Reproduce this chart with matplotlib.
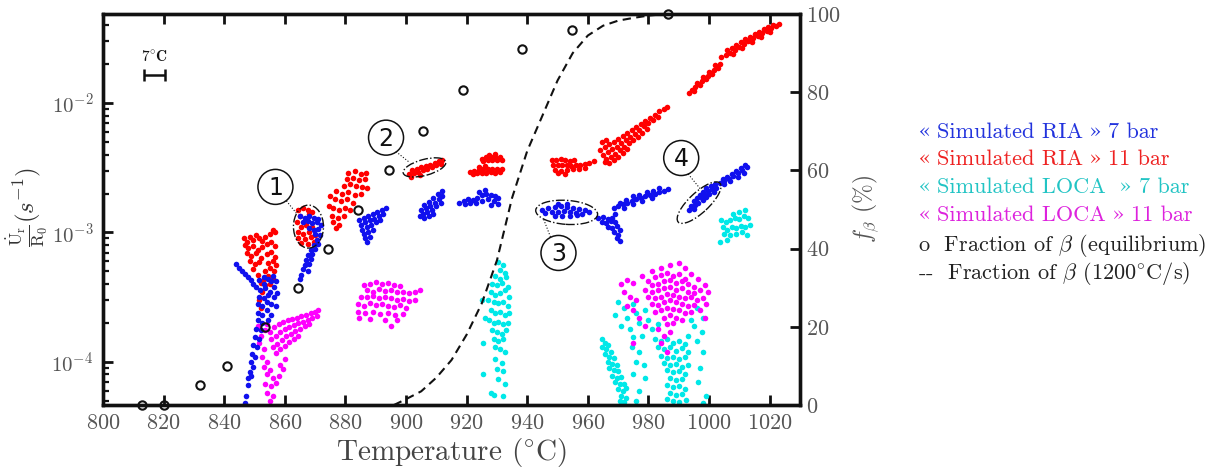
import numpy as np
import matplotlib
matplotlib.use("Agg")
import matplotlib.pyplot as plt
from matplotlib.patches import Ellipse, Circle
from matplotlib.lines import Line2D
from matplotlib.transforms import IdentityTransform
from matplotlib.ticker import LogLocator, FixedLocator

plt.rcParams['mathtext.fontset'] = 'cm'
plt.rcParams['font.family'] = ['cmr10', 'DejaVu Serif']
plt.rcParams['axes.unicode_minus'] = False
plt.rcParams['axes.formatter.use_mathtext'] = True

# ---------------- data (temperature degC, strain rate s^-1) ----------------
# "Simulated RIA" 7 bar (blue)
ria7_c1 = [(844.0,5.7e-4),(845.0,5.3e-4),(846.0,5.0e-4),(846.8,4.8e-4),(847.8,4.5e-4),(848.8,4.3e-4),
           (849.6,4.0e-4),(850.5,3.8e-4),(851.5,4.3e-4),(853.0,4.5e-4),(854.5,4.4e-4),(856.0,4.6e-4),
           (857.0,4.2e-4),(851.8,3.6e-4),(853.5,3.7e-4),(855.0,3.5e-4),(856.5,3.8e-4),(851.5,3.2e-4),
           (853.0,3.1e-4),(854.5,3.3e-4),(856.5,3.2e-4),(857.5,3.4e-4),(851.0,2.8e-4),(852.5,2.7e-4),
           (854.0,2.9e-4),(855.5,2.8e-4),(857.0,2.7e-4),(851.0,2.4e-4),(852.5,2.3e-4),(854.0,2.5e-4),
           (855.5,2.3e-4),(851.0,2.1e-4),(852.5,2.0e-4),(854.5,2.1e-4),(850.5,1.8e-4),(852.0,1.75e-4),
           (850.0,1.55e-4),(851.5,1.5e-4),(849.5,1.35e-4),(850.8,1.3e-4),(849.2,1.15e-4),(850.2,1.1e-4),
           (848.8,1.0e-4),(849.5,9.2e-5),(848.5,8.4e-5),(848.0,7.5e-5),(848.8,7.8e-5),(847.8,6.6e-5),
           (847.3,5.5e-5),(846.8,4.8e-5),(855.5,4.2e-4),(853.0,4.0e-4)]
ria7_c2 = [(865.0,1.35e-3),(866.5,1.3e-3),(868.0,1.33e-3),(869.5,1.3e-3),(871.0,1.28e-3),(866.0,1.2e-3),
           (867.5,1.22e-3),(869.0,1.18e-3),(870.5,1.2e-3),(871.8,1.15e-3),(868.0,1.08e-3),(869.5,1.05e-3),
           (871.0,1.07e-3),(870.0,9.8e-4),(871.5,9.5e-4),(870.5,8.8e-4),(869.5,8.0e-4),(871.0,8.2e-4),
           (868.5,7.3e-4),(870.0,7.5e-4),(867.5,6.7e-4),(869.0,6.8e-4),(867.0,6.1e-4),(868.5,6.2e-4),
           (866.5,5.6e-4),(868.0,5.7e-4),(866.0,5.2e-4),(867.5,5.0e-4),(865.5,4.7e-4),(865.0,4.4e-4)]
ria7_c3 = [(884.5,1.25e-3),(886.0,1.3e-3),(887.5,1.35e-3),(889.0,1.4e-3),(890.5,1.45e-3),(892.0,1.5e-3),
           (893.5,1.55e-3),(885.0,1.15e-3),(886.5,1.2e-3),(888.0,1.25e-3),(889.5,1.28e-3),(891.0,1.35e-3),
           (892.5,1.4e-3),(885.5,1.05e-3),(887.0,1.1e-3),(888.5,1.15e-3),(890.0,1.2e-3),(891.5,1.25e-3),
           (886.0,9.8e-4),(887.5,1.0e-3),(889.0,1.05e-3),(886.5,9.0e-4),(888.0,9.3e-4),(887.0,8.5e-4)]
ria7_c4 = [(905.0,1.5e-3),(906.5,1.55e-3),(908.0,1.6e-3),(909.5,1.7e-3),(911.0,1.8e-3),(912.0,1.9e-3),
           (905.5,1.4e-3),(907.0,1.45e-3),(908.5,1.5e-3),(910.0,1.6e-3),(911.5,1.7e-3),(910.5,2.0e-3),
           (912.0,2.1e-3),(904.5,1.35e-3),(906.0,1.3e-3),(907.5,1.35e-3),(909.0,1.4e-3),(906.0,1.62e-3),
           (907.5,1.72e-3),(909.0,1.85e-3)]
ria7_c5 = [(917.5,1.7e-3),(919.0,1.75e-3),(920.5,1.8e-3),(922.0,1.78e-3),(923.5,1.85e-3),(925.0,1.95e-3),
           (926.5,2.0e-3),(928.0,1.95e-3),(929.5,1.9e-3),(930.5,1.85e-3),(919.5,1.65e-3),(921.0,1.7e-3),
           (923.0,1.68e-3),(925.0,1.75e-3),(927.0,1.8e-3),(929.0,1.75e-3),(930.5,1.65e-3),(924.0,2.05e-3),
           (926.0,2.12e-3),(928.0,1.62e-3)]
ria7_c6 = [(945.0,1.5e-3),(947.0,1.55e-3),(949.0,1.58e-3),(951.0,1.6e-3),(953.0,1.58e-3),(955.0,1.55e-3),
           (957.0,1.52e-3),(959.0,1.5e-3),(960.5,1.45e-3),(946.0,1.42e-3),(948.0,1.45e-3),(950.0,1.43e-3),
           (952.0,1.47e-3),(954.0,1.44e-3),(956.0,1.42e-3),(958.0,1.4e-3),(949.0,1.35e-3),(951.5,1.33e-3),
           (954.0,1.35e-3),(956.5,1.36e-3),(950.0,1.65e-3),(953.0,1.66e-3)]
ria7_c7 = [(963.5,1.3e-3),(965.0,1.32e-3),(966.5,1.28e-3),(968.0,1.3e-3),(964.5,1.2e-3),(966.0,1.18e-3),
           (967.5,1.22e-3),(969.0,1.2e-3),(966.5,1.1e-3),(968.0,1.08e-3),(969.5,1.12e-3),(970.5,1.05e-3),
           (968.5,1.0e-3),(970.0,9.6e-4),(969.5,9.0e-4),(970.5,8.6e-4)]
ria7_c8 = [(968.5,1.55e-3),(970.0,1.6e-3),(971.5,1.65e-3),(973.0,1.7e-3),(974.5,1.75e-3),(976.0,1.8e-3),
           (977.5,1.85e-3),(979.0,1.9e-3),(980.5,1.95e-3),(982.0,2.0e-3),(983.5,2.05e-3),(985.0,2.1e-3),
           (986.3,2.15e-3),(970.5,1.7e-3),(972.5,1.78e-3),(975.0,1.9e-3),(977.0,1.95e-3),(979.5,2.05e-3),
           (981.5,2.1e-3),(983.5,2.2e-3),(972.0,1.55e-3),(975.0,1.65e-3),(978.0,1.75e-3),(981.0,1.85e-3),
           (969.0,1.4e-3)]
ria7_c9 = [(999.0,2.2e-3),(1000.5,2.3e-3),(1002.0,2.35e-3),(998.0,2.05e-3),(999.5,2.1e-3),(1001.0,2.15e-3),
           (1002.3,2.2e-3),(997.0,1.95e-3),(998.5,1.95e-3),(1000.0,2.0e-3),(1001.5,2.05e-3),(996.0,1.85e-3),
           (997.5,1.85e-3),(999.0,1.88e-3),(995.0,1.75e-3),(996.5,1.7e-3),(998.0,1.78e-3),(994.0,1.6e-3),
           (995.5,1.62e-3),(993.5,1.5e-3),(995.0,1.52e-3)]
ria7_c10 = [(1003.5,2.4e-3),(1005.0,2.5e-3),(1006.5,2.6e-3),(1008.0,2.75e-3),(1009.5,2.9e-3),(1011.0,3.05e-3),
            (1012.5,3.2e-3),(1004.5,2.6e-3),(1006.0,2.7e-3),(1007.5,2.85e-3),(1009.0,3.0e-3),(1010.5,3.15e-3),
            (1012.0,3.3e-3),(1005.0,2.35e-3),(1007.0,2.5e-3),(1009.5,2.7e-3),(1011.5,2.9e-3)]

# "Simulated RIA" 11 bar (red)
ria11_c1 = [(846.5,9.0e-4),(847.5,8.5e-4),(848.5,9.3e-4),(849.5,8.8e-4),(850.5,9.5e-4),(851.5,9.0e-4),
            (852.5,8.6e-4),(853.5,9.2e-4),(855.0,9.8e-4),(856.0,1.05e-3),(856.8,1.0e-3),(846.8,8.0e-4),
            (848.0,7.6e-4),(849.5,7.9e-4),(851.0,7.3e-4),(852.5,7.7e-4),(854.0,8.1e-4),(855.5,8.4e-4),
            (856.8,7.9e-4),(847.5,7.0e-4),(849.0,6.6e-4),(850.5,6.9e-4),(852.0,6.3e-4),(854.0,6.8e-4),
            (855.5,7.1e-4),(856.8,6.5e-4),(848.5,6.0e-4),(850.0,5.7e-4),(851.5,5.9e-4),(854.5,5.8e-4),
            (856.0,6.0e-4),(857.0,5.6e-4),(849.5,5.2e-4),(853.5,5.0e-4),(855.0,5.3e-4),(856.5,5.0e-4),
            (851.0,4.7e-4),(853.0,4.4e-4),(854.5,4.6e-4),(856.0,4.4e-4),(852.0,4.1e-4),(853.5,3.9e-4),
            (855.0,4.0e-4),(852.5,3.5e-4),(851.5,3.0e-4),(852.0,2.6e-4)]
ria11_c2 = [(864.5,1.5e-3),(866.0,1.55e-3),(867.5,1.5e-3),(869.0,1.45e-3),(865.0,1.35e-3),(868.0,1.38e-3),
            (864.0,1.2e-3),(865.5,1.1e-3),(867.0,1.15e-3),(869.0,1.1e-3),(864.2,1.0e-3),(866.0,9.8e-4),
            (868.0,1.0e-3),(870.0,9.6e-4),(864.5,9.0e-4),(866.5,8.9e-4),(868.5,9.2e-4),(870.5,8.8e-4),
            (865.5,8.3e-4),(867.5,8.2e-4),(869.5,8.4e-4)]
ria11_c3 = [(881.0,2.9e-3),(883.0,3.0e-3),(885.0,2.85e-3),(886.8,2.9e-3),(880.5,2.6e-3),(882.5,2.65e-3),
            (884.5,2.55e-3),(886.5,2.6e-3),(879.5,2.3e-3),(881.5,2.35e-3),(883.5,2.3e-3),(885.5,2.25e-3),
            (887.0,2.2e-3),(877.0,2.1e-3),(879.0,2.0e-3),(881.0,2.05e-3),(883.0,1.95e-3),(885.0,2.0e-3),
            (875.0,1.9e-3),(876.5,1.8e-3),(878.5,1.75e-3),(880.5,1.8e-3),(882.5,1.7e-3),(874.5,1.6e-3),
            (876.0,1.55e-3),(878.0,1.5e-3),(880.0,1.55e-3),(881.5,1.48e-3),(875.5,1.35e-3),(877.5,1.3e-3),
            (879.5,1.35e-3),(876.0,1.2e-3),(878.0,1.15e-3),(877.0,1.08e-3)]
ria11_c4 = [(901.0,2.85e-3),(902.5,2.9e-3),(904.0,2.95e-3),(905.5,3.05e-3),(907.0,3.1e-3),(908.5,3.2e-3),
            (910.0,3.3e-3),(911.5,3.4e-3),(902.0,3.05e-3),(903.5,3.1e-3),(905.0,3.2e-3),(906.5,3.25e-3),
            (908.0,3.35e-3),(909.5,3.45e-3),(911.0,3.55e-3),(912.0,3.6e-3),(901.5,2.7e-3),(904.5,2.8e-3)]
ria11_c5 = [(925.0,3.7e-3),(926.5,3.8e-3),(928.0,3.85e-3),(929.5,3.85e-3),(931.0,3.8e-3),(925.5,3.55e-3),
            (927.0,3.6e-3),(928.5,3.62e-3),(930.0,3.6e-3),(931.5,3.65e-3),(927.5,4.0e-3),(929.5,4.05e-3),
            (921.0,2.95e-3),(922.5,3.0e-3),(924.0,3.05e-3),(925.5,3.1e-3),(927.0,3.1e-3),(928.5,3.12e-3),
            (930.0,3.1e-3),(931.5,3.08e-3),(922.0,2.85e-3),(923.5,2.88e-3),(925.0,2.9e-3),(926.5,2.88e-3),
            (928.0,2.92e-3),(929.5,2.9e-3),(931.0,2.95e-3),(924.0,3.2e-3),(926.0,3.25e-3)]
ria11_c6 = [(948.0,3.6e-3),(949.5,3.65e-3),(951.0,3.7e-3),(952.5,3.6e-3),(954.0,3.55e-3),(955.5,3.6e-3),
            (948.5,3.35e-3),(950.0,3.3e-3),(951.5,3.35e-3),(953.0,3.3e-3),(954.5,3.25e-3),(956.0,3.3e-3),
            (957.5,3.35e-3),(959.0,3.4e-3),(960.5,3.45e-3),(962.0,3.55e-3),(949.0,3.05e-3),(951.0,3.0e-3),
            (953.0,3.05e-3),(955.0,3.1e-3),(957.0,3.12e-3),(959.0,3.15e-3),(950.0,2.9e-3),(952.5,2.85e-3)]
ria11_c7 = [(964.0,4.3e-3),(965.5,4.6e-3),(967.0,4.8e-3),(968.5,5.0e-3),(970.0,5.3e-3),(971.5,5.6e-3),
            (973.0,5.9e-3),(974.5,6.2e-3),(976.0,6.5e-3),(977.5,6.9e-3),(979.0,7.3e-3),(980.5,7.7e-3),
            (982.0,8.1e-3),(983.5,8.6e-3),(985.0,9.0e-3),(986.0,9.3e-3),(965.0,4.0e-3),(966.5,4.2e-3),
            (968.0,4.4e-3),(969.5,4.6e-3),(971.0,4.9e-3),(972.5,5.2e-3),(974.0,5.5e-3),(975.5,5.8e-3),
            (977.0,6.2e-3),(978.5,6.6e-3),(980.0,7.0e-3),(981.5,7.4e-3),(983.0,7.8e-3),(966.0,3.7e-3),
            (967.5,3.85e-3),(969.0,4.05e-3),(970.5,4.3e-3),(972.0,4.6e-3),(973.5,4.9e-3),(975.0,5.2e-3),
            (976.5,5.5e-3),(978.0,5.9e-3),(979.5,6.3e-3),(967.0,3.45e-3),(968.5,3.6e-3),(970.0,3.8e-3),
            (971.5,4.1e-3),(973.0,4.4e-3),(965.5,3.5e-3),(964.5,5.0e-3),(966.0,5.2e-3)]
ria11_c8 = [(993.5,1.2e-2),(994.5,1.27e-2),(995.5,1.33e-2),(996.5,1.4e-2),(997.5,1.48e-2),(998.5,1.55e-2),
            (999.5,1.62e-2),(1000.5,1.7e-2),(1001.5,1.8e-2),(1002.5,1.9e-2),(1003.5,2.0e-2),(995.0,1.24e-2),
            (997.0,1.38e-2),(999.0,1.52e-2),(1001.0,1.68e-2),(1003.0,1.85e-2),(996.0,1.42e-2),(998.0,1.6e-2),
            (1000.0,1.75e-2),(1002.0,1.95e-2)]
ria11_c9 = [(1004.0,2.25e-2),(1005.5,2.35e-2),(1007.0,2.45e-2),(1008.5,2.55e-2),(1010.0,2.7e-2),(1011.5,2.85e-2),
            (1013.0,3.0e-2),(1014.5,3.15e-2),(1016.0,3.3e-2),(1017.5,3.45e-2),(1019.0,3.6e-2),(1020.5,3.8e-2),
            (1022.0,3.95e-2),(1023.0,4.1e-2),(1006.0,2.55e-2),(1007.5,2.65e-2),(1009.0,2.8e-2),(1010.5,2.95e-2),
            (1012.0,3.1e-2),(1013.5,3.25e-2),(1015.0,3.4e-2),(1016.5,3.55e-2),(1018.0,3.7e-2),(1019.5,3.85e-2),
            (1021.0,4.0e-2),(1008.0,2.4e-2),(1011.0,2.65e-2),(1014.0,2.95e-2),(1017.0,3.25e-2),(1020.0,3.55e-2)]

# "Simulated LOCA" 7 bar (cyan)
loca7_c1 = [(930.5,5.9e-4),(932.0,5.6e-4),(931.0,5.1e-4),(932.5,4.9e-4),(929.5,4.6e-4),(931.0,4.4e-4),
            (933.0,4.5e-4),(928.5,4.0e-4),(930.0,3.9e-4),(931.5,4.1e-4),(933.5,3.8e-4),(928.0,3.5e-4),
            (929.5,3.3e-4),(931.0,3.4e-4),(932.5,3.6e-4),(934.0,3.2e-4),(927.0,3.0e-4),(929.0,2.9e-4),
            (930.5,2.85e-4),(932.0,2.9e-4),(933.5,2.7e-4),(928.0,2.5e-4),(929.5,2.4e-4),(931.0,2.45e-4),
            (932.5,2.3e-4),(934.0,2.4e-4),(927.5,2.1e-4),(929.0,2.0e-4),(930.5,2.05e-4),(932.0,1.95e-4),
            (933.5,2.0e-4),(928.5,1.75e-4),(930.0,1.7e-4),(931.5,1.65e-4),(933.0,1.75e-4),(929.0,1.5e-4),
            (930.5,1.45e-4),(932.0,1.5e-4),(929.5,1.3e-4),(931.0,1.25e-4),(932.5,1.2e-4),(925.5,1.4e-4),
            (926.0,2.2e-4),(925.0,3.0e-4),(929.5,1.05e-4),(931.5,9.8e-5),(930.0,8.8e-5),(932.0,8.5e-5),
            (925.5,8.0e-5),(930.5,7.4e-5),(932.5,6.8e-5),(928.0,5.8e-5),(929.0,5.6e-5),(932.0,5.5e-5)]
loca7_c2 = [(964.5,1.5e-4),(965.5,1.4e-4),(966.5,1.35e-4),(964.8,1.3e-4),(966.0,1.25e-4),(967.5,1.2e-4),
            (965.5,1.15e-4),(967.0,1.1e-4),(968.5,1.08e-4),(966.5,1.0e-4),(968.0,9.7e-5),(969.5,9.5e-5),
            (967.0,9.0e-5),(968.5,8.6e-5),(970.0,8.5e-5),(968.0,7.8e-5),(969.5,7.5e-5),(971.0,7.7e-5),
            (969.0,7.0e-5),(970.5,6.7e-5),(972.0,6.8e-5),(970.0,6.2e-5),(971.5,6.0e-5),(972.5,6.3e-5),
            (971.0,5.5e-5),(972.5,5.3e-5),(970.5,5.0e-5),(972.0,4.9e-5)]
loca7_c3 = [(970.0,2.9e-4),(972.0,2.6e-4),(975.0,2.8e-4),(969.0,2.3e-4),(973.0,2.2e-4),(976.0,2.4e-4),
            (979.0,2.5e-4),(971.0,1.9e-4),(974.0,1.8e-4),(977.0,2.0e-4),(980.0,2.1e-4),(996.0,2.6e-4),
            (998.0,2.2e-4),(995.0,1.9e-4),(997.5,1.7e-4),(975.0,1.55e-4),(978.0,1.6e-4),(993.0,1.6e-4),
            (996.0,1.45e-4),(974.5,1.3e-4),(977.0,1.2e-4),(998.0,1.2e-4),(976.0,1.0e-4),(978.5,9.5e-5),
            (997.0,9.0e-5),(975.0,8.0e-5),(979.0,7.5e-5),(996.5,7.0e-5),(977.0,6.0e-5),(999.0,5.5e-5),
            (976.0,5.0e-5),(998.0,4.8e-5),(981.0,1.8e-4),(983.0,1.95e-4),(994.0,2.1e-4),
            (982.0,1.5e-4),(984.0,1.45e-4),(986.0,1.5e-4),(988.0,1.4e-4),(990.0,1.45e-4),(992.0,1.38e-4),
            (983.0,1.3e-4),(985.0,1.25e-4),(987.0,1.3e-4),(989.0,1.22e-4),(991.0,1.28e-4),(993.0,1.2e-4),
            (984.0,1.12e-4),(986.0,1.08e-4),(988.0,1.1e-4),(990.0,1.05e-4),(992.0,1.1e-4),(985.0,9.8e-5),
            (987.0,9.5e-5),(989.0,9.7e-5),(991.0,9.2e-5),(993.0,9.5e-5),(986.0,8.6e-5),(988.0,8.3e-5),
            (990.0,8.5e-5),(992.0,8.0e-5),(987.0,7.5e-5),(989.0,7.2e-5),(991.0,7.4e-5),(986.0,6.6e-5),
            (988.0,6.4e-5),(990.0,6.5e-5),(992.0,6.2e-5),(987.0,5.8e-5),(989.0,5.6e-5),(991.0,5.7e-5),
            (988.0,5.0e-5),(990.0,4.9e-5),(986.0,5.2e-5),(992.5,5.1e-5)]
loca7_c4 = [(1004.0,1.25e-3),(1005.5,1.2e-3),(1007.0,1.25e-3),(1008.5,1.3e-3),(1010.0,1.28e-3),(1011.5,1.35e-3),
            (1013.0,1.3e-3),(1004.5,1.1e-3),(1006.0,1.05e-3),(1007.5,1.1e-3),(1009.0,1.08e-3),(1010.5,1.12e-3),
            (1012.0,1.1e-3),(1013.5,1.15e-3),(1005.0,9.8e-4),(1007.0,9.5e-4),(1009.0,9.8e-4),(1011.0,1.0e-3),
            (1012.5,9.6e-4),(1006.0,8.8e-4),(1003.5,8.5e-4),(1010.0,1.45e-3),(1012.0,1.5e-3),(1008.0,1.4e-3)]

# "Simulated LOCA" 11 bar (magenta)
loca11_c1 = [(855.0,1.7e-4),(856.5,1.85e-4),(858.0,1.95e-4),(859.5,2.05e-4),(861.0,2.1e-4),(862.5,2.15e-4),
             (864.0,2.2e-4),(865.5,2.25e-4),(867.0,2.3e-4),(868.5,2.38e-4),(870.0,2.45e-4),(871.0,2.5e-4),
             (855.5,1.5e-4),(857.0,1.6e-4),(858.5,1.7e-4),(860.0,1.8e-4),(861.5,1.85e-4),(863.0,1.92e-4),
             (864.5,2.0e-4),(866.0,2.05e-4),(867.5,2.12e-4),(869.0,2.2e-4),(870.5,2.25e-4),(856.0,1.3e-4),
             (857.5,1.38e-4),(859.0,1.48e-4),(860.5,1.58e-4),(862.0,1.65e-4),(863.5,1.72e-4),(865.0,1.8e-4),
             (866.5,1.88e-4),(868.0,1.95e-4),(857.0,1.18e-4),(858.5,1.25e-4),(860.0,1.32e-4),(861.5,1.42e-4),
             (863.0,1.5e-4),(864.5,1.6e-4),(854.0,1.95e-4),(853.5,1.75e-4),
             (851.0,1.9e-4),(852.0,1.6e-4),(851.5,1.4e-4),(853.0,1.25e-4),(852.5,1.1e-4),(854.0,1.0e-4),
             (853.0,9.2e-5),(855.0,8.6e-5),(854.0,8.0e-5),(856.0,7.5e-5),(853.5,6.8e-5),(855.5,6.5e-5),
             (857.0,6.9e-5),(854.0,5.8e-5),(856.0,5.5e-5),(855.0,5.0e-5),(858.0,7.8e-5),(859.5,8.8e-5),
             (858.5,9.5e-5),(860.0,1.05e-4)]
loca11_c2 = [(886.0,3.9e-4),(888.0,4.0e-4),(890.0,4.15e-4),(892.0,4.0e-4),(894.0,4.1e-4),(896.0,3.95e-4),
             (898.0,3.85e-4),(887.0,3.6e-4),(889.0,3.5e-4),(891.0,3.65e-4),(893.0,3.55e-4),(895.0,3.6e-4),
             (897.0,3.5e-4),(899.0,3.45e-4),(901.0,3.4e-4),(903.0,3.5e-4),(904.5,3.6e-4),(885.0,3.2e-4),
             (887.0,3.15e-4),(889.0,3.25e-4),(891.0,3.1e-4),(893.0,3.2e-4),(895.0,3.1e-4),(897.0,3.0e-4),
             (899.0,3.05e-4),(901.0,2.95e-4),(903.0,3.0e-4),(884.0,2.8e-4),(886.0,2.7e-4),(888.0,2.85e-4),
             (890.0,2.75e-4),(892.0,2.8e-4),(894.0,2.7e-4),(896.0,2.65e-4),(898.0,2.75e-4),(900.0,2.6e-4),
             (884.0,2.45e-4),(886.5,2.4e-4),(889.0,2.45e-4),(891.5,2.35e-4),(894.0,2.4e-4),(896.5,2.3e-4),
             (899.0,2.35e-4),(884.5,2.2e-4),(888.0,2.15e-4),(893.0,2.1e-4),(897.0,2.1e-4),(895.0,1.9e-4)]
loca11_c3 = [(971.0,4.0e-4),(973.0,4.3e-4),(975.0,4.1e-4),(978.0,4.6e-4),(981.0,5.0e-4),(984.0,5.3e-4),
             (987.0,5.6e-4),(990.0,5.8e-4),(992.0,5.3e-4),(994.0,4.8e-4),(996.5,4.4e-4),(998.5,3.9e-4),
             (999.5,3.5e-4),(972.0,3.5e-4),(974.0,3.2e-4),(976.0,3.0e-4),(998.0,3.1e-4),(999.0,2.8e-4),
             (973.0,2.7e-4),(975.0,2.5e-4),(997.0,2.5e-4),(998.5,2.2e-4),(977.0,2.2e-4),(979.0,1.9e-4),
             (983.0,1.8e-4),(985.0,1.6e-4),(987.0,1.7e-4),(975.0,1.4e-4),(984.0,1.4e-4),(986.0,1.2e-4),
             (980.0,4.2e-4),(982.0,4.5e-4),(984.0,4.7e-4),(986.0,4.9e-4),(988.0,4.6e-4),(990.0,4.8e-4),
             (992.0,4.4e-4),(981.0,3.9e-4),(983.0,4.0e-4),(985.0,4.2e-4),(987.0,4.3e-4),(989.0,4.1e-4),
             (991.0,4.2e-4),(993.0,4.0e-4),(995.0,3.8e-4),(979.0,3.6e-4),(981.0,3.5e-4),(983.0,3.6e-4),
             (985.0,3.7e-4),(987.0,3.8e-4),(989.0,3.6e-4),(991.0,3.7e-4),(993.0,3.5e-4),(995.0,3.4e-4),
             (997.0,3.6e-4),(980.0,3.2e-4),(982.0,3.1e-4),(984.0,3.2e-4),(986.0,3.35e-4),(988.0,3.3e-4),
             (990.0,3.2e-4),(992.0,3.1e-4),(994.0,3.15e-4),(996.0,3.0e-4),(981.0,2.8e-4),(983.0,2.75e-4),
             (985.0,2.9e-4),(987.0,3.0e-4),(989.0,2.9e-4),(991.0,2.8e-4),(993.0,2.7e-4),(995.0,2.75e-4),
             (982.0,2.45e-4),(984.0,2.5e-4),(986.0,2.6e-4),(988.0,2.55e-4),(990.0,2.5e-4),(992.0,2.4e-4),
             (994.0,2.45e-4),(985.0,2.2e-4),(987.0,2.3e-4),(989.0,2.2e-4),(991.0,2.1e-4),(986.0,1.95e-4),
             (988.0,2.0e-4)]

# beta fraction (%), right axis
eq_T = [812.8, 820.0, 832.0, 841.0, 853.4, 864.4, 874.3, 884.3, 894.5, 905.7, 918.8, 938.2, 954.6, 986.5]
eq_f = [0.0, 0.0, 5.0, 10.0, 20.0, 30.0, 40.0, 50.0, 60.0, 70.0, 80.5, 91.0, 96.0, 100.0]
fast_T = [896, 900, 905, 910, 915, 920, 925, 930, 935, 940, 945, 950, 955, 960, 965, 970, 975, 980, 986]
fast_f = [0.0, 1.5, 3.5, 7.0, 11.5, 18.0, 26.0, 37.0, 53.0, 65.0, 74.0, 83.0, 90.0, 94.5, 97.0, 98.3, 99.0, 99.6, 100.0]

x_ticks = [800, 820, 840, 860, 880, 900, 920, 940, 960, 980, 1000, 1020]
f_ticks = [0, 20, 40, 60, 80, 100]

legend_names = ['Simulated RIA', 'Simulated RIA', 'Simulated LOCA', 'Simulated LOCA']
legend_tails = ['7 bar', '11 bar', '7 bar', '11 bar']
legend_series_colors = ['#2233dd', '#ee2222', '#22c4c4', '#dd22dd']
legend_beta = [r'o  Fraction of $\mathrm{\beta}$ (equilibrium)',
               r'--  Fraction of $\mathrm{\beta}$ (1200$^{\circ}$C/s)']


def unzip(*clusters):
    pts = [p for c in clusters for p in c]
    return np.array([p[0] for p in pts]), np.array([p[1] for p in pts])


# ---------------- figure ----------------
W, H = 1226, 469
fig = plt.figure(figsize=(W / 100, H / 100), dpi=100)
ax = fig.add_axes([103 / W, 1 - 405 / H, (800 - 103) / W, (405 - 14) / H])
ax2 = ax.twinx()
ident = IdentityTransform()

TICK_GRAY = '#555555'
msize = 16
T, r = unzip(loca7_c1, loca7_c2, loca7_c3, loca7_c4)
ax.scatter(T, r, s=msize, c='#00e8e8', linewidths=0, zorder=2)
T, r = unzip(loca11_c1, loca11_c2, loca11_c3)
ax.scatter(T, r, s=msize, c='#ff00ff', linewidths=0, zorder=2.1)
T, r = unzip(ria11_c1, ria11_c2, ria11_c3, ria11_c4, ria11_c5, ria11_c6, ria11_c7, ria11_c8, ria11_c9)
ax.scatter(T, r, s=msize, c='#ff0000', linewidths=0, zorder=2.2)
T, r = unzip(ria7_c1, ria7_c2, ria7_c3, ria7_c4, ria7_c5, ria7_c6, ria7_c7, ria7_c8, ria7_c9, ria7_c10)
ax.scatter(T, r, s=msize, c='#1010ee', linewidths=0, zorder=2.3)

ax.set_yscale('log')
ax.set_xlim(800, 1030)
ax.set_ylim(4.65e-5, 4.87e-2)
ax.xaxis.set_major_locator(FixedLocator(x_ticks))
ax.yaxis.set_major_locator(LogLocator(base=10, numticks=10))
ax.yaxis.set_minor_locator(LogLocator(base=10, subs=np.arange(2, 10), numticks=20))

ax2.plot(fast_T, fast_f, color='#111111', lw=1.5, dashes=(4, 2.6), zorder=3)
ax2.plot(eq_T, eq_f, linestyle='none', marker='o', ms=6, mfc='none', mec='#111111', mew=1.5,
         clip_on=False, zorder=5)
ax2.set_ylim(0, 100)
ax2.yaxis.set_major_locator(FixedLocator(f_ticks))

for a in (ax, ax2):
    for s in a.spines.values():
        s.set_linewidth(2.4)
        s.set_color('#111111')
ax.tick_params(axis='x', which='major', direction='in', length=7, width=2.0, colors='#111111',
               labelcolor=TICK_GRAY, labelsize=16, top=True, pad=6)
ax.tick_params(axis='y', which='major', direction='in', length=7, width=2.0, colors='#111111',
               labelcolor=TICK_GRAY, labelsize=15, right=False, pad=7)
ax.tick_params(axis='y', which='minor', direction='in', length=4.5, width=1.6, colors='#111111')
ax.tick_params(axis='x', which='minor', bottom=False, top=False)
ax2.tick_params(axis='y', which='major', direction='in', length=7, width=2.0, colors='#111111',
                labelcolor=TICK_GRAY, labelsize=16, pad=4)

ax.set_xlabel('Temperature ($^{\\circ}$C)', fontsize=21, color='#444444', labelpad=2)
# left axis label placed explicitly (pixel position of its centre)
fig.text(27, H - 207, r'$\frac{\dot{\mathrm{U}}_{\mathrm{r}}}{\mathrm{R}_0}(s^{-1})$', transform=ident,
         fontsize=18, color='#333333', rotation=90, ha='center', va='center')
ax2.set_ylabel(r'$f_{\beta}$ (%)', fontsize=17, color='#555555', labelpad=8)

# 7 degC scale bar
ax.errorbar([816.9], [1.64e-2], xerr=[[3.5], [3.5]], fmt='none', ecolor='#111111',
            elinewidth=1.8, capsize=4, capthick=1.8, zorder=4)
ax.text(816.9, 2.0e-2, r'$\mathbf{7^{\circ}C}$', fontsize=11, ha='center', va='bottom',
        color='#111111')

# ---------------- annotations (circled numbers + dash-dot ellipses) ----------------
annots = [
    # label, circle (T, rate), ellipse (T, rate), w, h, angle, start offset, end offset
    ('1', (856.9, 2.25e-3), (867.8, 1.11e-3), 30, 43, 0, (11, -14), (-11, 12)),
    ('2', (893.4, 5.4e-3), (906.1, 3.18e-3), 44, 16, 15, (10, -14), (-15, 5)),
    ('3', (950.3, 6.95e-4), (953.0, 1.43e-3), 62, 24, -4, (-8, 16), (-23, -7)),
    ('4', (990.8, 3.76e-3), (996.7, 1.70e-3), 57, 20, 43, (7, -16), (1, 14)),
]
for lab, cpos, epos, w, h, ang, so, eo in annots:
    cx, cy = ax.transData.transform(cpos)
    ex, ey = ax.transData.transform(epos)
    fig.add_artist(Circle((cx, cy), 17.5, transform=ident, fill=True, fc='white', ec='#111111',
                          lw=1.1, zorder=10))
    fig.text(cx, cy - 1, lab, transform=ident, ha='center', va='center', fontsize=17,
             family='DejaVu Sans', color='#111111', zorder=11)
    fig.add_artist(Ellipse((ex, ey), w, h, angle=ang, transform=ident, fill=False, ec='#111111',
                           lw=1.0, ls='-.', zorder=10))
    fig.add_artist(Line2D([cx + so[0], ex + eo[0]], [cy + so[1], ey + eo[1]], transform=ident,
                          color='#111111', lw=0.8, ls=':', zorder=10))

# ---------------- legend as text lines ----------------
renderer = fig.canvas.get_renderer()
SP = 7.4  # word space in pixels at 16 pt
leg_y = [130, 157, 185, 213, 241, 269]
for i in range(4):
    y = H - leg_y[i]
    x = 918
    segs = [('\u00ab', 'STIXGeneral', SP), (legend_names[i], 'cmr10', SP * (2 if i == 2 else 1)),
            ('\u00bb', 'STIXGeneral', SP), (legend_tails[i], 'cmr10', 0)]
    for txt, fam, gap in segs:
        t = fig.text(x, y, txt, transform=ident, family=fam, fontsize=16,
                     color=legend_series_colors[i], ha='left', va='center_baseline')
        x = t.get_window_extent(renderer).x1 + gap
for j, lab in enumerate(legend_beta):
    fig.text(918, H - leg_y[4 + j], lab, transform=ident, fontsize=16, color='#222222',
             ha='left', va='center_baseline')

fig.savefig('out.png', dpi=100)
